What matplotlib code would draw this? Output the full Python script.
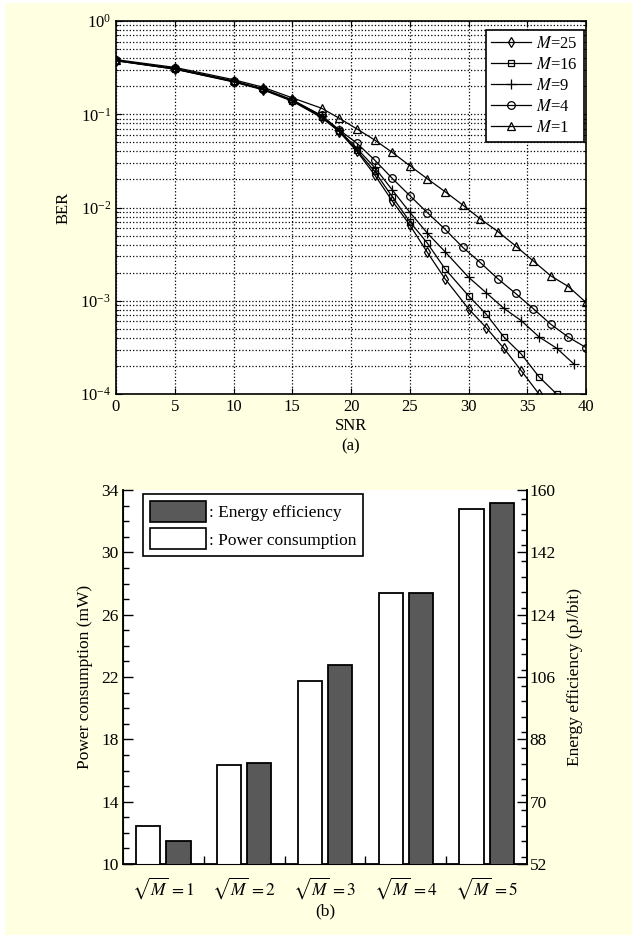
"""BER vs SNR curves and power / energy bars"""

import numpy as np
import matplotlib
matplotlib.use('Agg')
import matplotlib.pyplot as plt
from matplotlib.patches import Rectangle, Patch
from matplotlib.ticker import MultipleLocator, LogLocator, NullFormatter, FixedLocator

plt.rcParams['font.family'] = ['Liberation Serif', 'DejaVu Serif']
plt.rcParams['mathtext.fontset'] = 'stix'
plt.rcParams['font.size'] = 11

# ---- panel (a) data ----
snr_a = [0, 5, 10, 12.5, 15, 17.5, 19, 20.5, 22, 23.5, 25, 26.5, 28]
snr_b = snr_a + [30, 31.5, 33, 34.5, 36, 37.5, 39]
snr_c = snr_a + [29.5, 31, 32.5, 34, 35.5, 37, 38.5, 40]

snr_m25 = snr_b[:18]
ber_m25 = [0.375, 0.305, 0.222, 0.183, 0.138, 0.092, 0.065, 0.040, 0.0225,
           0.0118, 0.0065, 0.0033, 0.00172, 0.00082, 0.000516, 0.00031,
           0.000177, 0.0001]
snr_m16 = snr_b[:19]
ber_m16 = [0.375, 0.305, 0.224, 0.185, 0.140, 0.094, 0.066, 0.041, 0.0245,
           0.0131, 0.00706, 0.00414, 0.0022, 0.00113, 0.00072, 0.00041,
           0.000267, 0.000153, 0.0001]
snr_m9 = snr_b
ber_m9 = [0.378, 0.308, 0.226, 0.186, 0.141, 0.096, 0.067, 0.043, 0.027,
          0.0155, 0.0089, 0.0053, 0.00336, 0.00179, 0.00122, 0.00083,
          0.00061, 0.00041, 0.00031, 0.000208]
snr_m4 = snr_c
ber_m4 = [0.380, 0.310, 0.228, 0.188, 0.143, 0.097, 0.068, 0.0489, 0.0324,
          0.0206, 0.01342, 0.0088, 0.00585, 0.00375, 0.00257, 0.00172,
          0.0012, 0.000825, 0.00056, 0.000407, 0.000315]
snr_m1 = snr_c
ber_m1 = [0.385, 0.318, 0.235, 0.195, 0.150, 0.116, 0.0906, 0.0696, 0.0531,
          0.0391, 0.0281, 0.0203, 0.0148, 0.01066, 0.00755, 0.00552,
          0.00388, 0.00268, 0.00185, 0.00142, 0.00096]

# ---- panel (b) data ----
groups = [r'$\sqrt{M}\,=1$', r'$\sqrt{M}\,=2$', r'$\sqrt{M}\,=3$',
          r'$\sqrt{M}\,=4$', r'$\sqrt{M}\,=5$']
power_mw = [12.45, 16.38, 21.74, 27.37, 32.77]
energy_pj = [58.5, 81.2, 109.35, 130.2, 156.2]
power_ticks = [10, 14, 18, 22, 26, 30, 34]
energy_ticks = [52, 70, 88, 106, 124, 142, 160]

CREAM = '#ffffe1'
DARK = '#595959'

fig = plt.figure(figsize=(6.35, 9.38), dpi=100, facecolor='white')
fig.patches.append(Rectangle((5 / 635, 3 / 938), 627 / 635, 932 / 938,
                             transform=fig.transFigure, facecolor=CREAM,
                             edgecolor='none', zorder=-10))

# ---------------- (a) ----------------
ax = fig.add_axes([116 / 635, 1 - 394 / 938, 470 / 635, 373 / 938])
ax.set_facecolor('white')
series = [
    (snr_m25, ber_m25, 'd', 5.5, r'$M$=25'),
    (snr_m16, ber_m16, 's', 5, r'$M$=16'),
    (snr_m9, ber_m9, '+', 7, r'$M$=9'),
    (snr_m4, ber_m4, 'o', 5.5, r'$M$=4'),
    (snr_m1, ber_m1, '^', 6, r'$M$=1'),
]
for x, y, mk, ms, lab in series:
    ax.plot(x, y, color='black', linewidth=0.9, marker=mk, markersize=ms,
            markerfacecolor='none', markeredgecolor='black',
            markeredgewidth=0.9, label=lab)

ax.set_yscale('log')
ax.set_xlim(0, 40)
ax.set_ylim(1e-4, 1)
ax.xaxis.set_major_locator(MultipleLocator(5))
ax.yaxis.set_major_locator(LogLocator(base=10, numticks=10))
ax.yaxis.set_minor_locator(LogLocator(base=10, subs=np.arange(2, 10), numticks=10))
ax.yaxis.set_minor_formatter(NullFormatter())
ax.grid(True, which='major', color='black', linestyle=':', linewidth=0.9)
ax.grid(True, which='minor', axis='y', color='black', linestyle=':', linewidth=0.9)
ax.tick_params(direction='in', which='both', labelsize=12, top=True, right=True)
ax.tick_params(which='major', length=4)
ax.tick_params(which='minor', length=2)
for s in ax.spines.values():
    s.set_linewidth(1.2)
ax.set_ylabel('BER', fontsize=12, labelpad=6)
ax.set_xlabel('SNR\n(a)', fontsize=12, labelpad=2, linespacing=1.4)

leg = ax.legend(loc='upper right', bbox_to_anchor=(1 - 2 / 470, 1 - 9 / 373),
                borderaxespad=0, fancybox=False, edgecolor='black',
                framealpha=1, fontsize=12, handlelength=2.4,
                labelspacing=0.3, handletextpad=0.3, borderpad=0.35)
leg.get_frame().set_linewidth(1.2)

# ---------------- (b) ----------------
bx = fig.add_axes([123 / 635, 1 - 864 / 938, 404 / 635, 374 / 938])
bx.set_facecolor('white')
idx = np.arange(len(groups))
off = 0.186
w = 0.30
bx.bar(idx - off, power_mw, width=w, color='white', edgecolor='black',
       linewidth=1.3, zorder=3)
bx.set_xlim(-0.5, len(groups) - 0.5)
bx.set_ylim(power_ticks[0], power_ticks[-1])
bx.yaxis.set_major_locator(FixedLocator(power_ticks))
bx.yaxis.set_minor_locator(MultipleLocator(1))
bx.set_xticks(idx)
bx.set_xticklabels(groups, fontsize=12.5)
bx.set_xticks(idx[:-1] + 0.5, minor=True)
bx.tick_params(axis='x', which='major', length=0, pad=8)
bx.tick_params(axis='x', which='minor', direction='in', length=6, width=1)
bx.tick_params(axis='y', which='major', direction='in', length=7, width=1,
               labelsize=12.5, pad=3)
bx.tick_params(axis='y', which='minor', direction='in', length=4, width=1)
bx.spines['top'].set_visible(False)
for s in ['left', 'bottom', 'right']:
    bx.spines[s].set_linewidth(1.3)
bx.set_ylabel('Power consumption (mW)', fontsize=12.5, labelpad=6)
bx.set_xlabel('(b)', fontsize=12.5, labelpad=2)

rx = bx.twinx()
rx.bar(idx + off, energy_pj, width=w, color=DARK, edgecolor='black',
       linewidth=1.3, zorder=3)
rx.set_ylim(energy_ticks[0], energy_ticks[-1])
rx.yaxis.set_major_locator(FixedLocator(energy_ticks))
rx.yaxis.set_minor_locator(MultipleLocator(4.5))
rx.tick_params(axis='y', which='major', direction='in', length=7, width=1,
               labelsize=12.5, pad=2)
rx.tick_params(axis='y', which='minor', direction='in', length=4, width=1)
rx.spines['top'].set_visible(False)
rx.spines['right'].set_linewidth(1.3)
rx.set_ylabel('Energy efficiency (pJ/bit)', fontsize=12.5, labelpad=8)

handles = [Patch(facecolor=DARK, edgecolor='black', linewidth=1.2),
           Patch(facecolor='white', edgecolor='black', linewidth=1.2)]
leg2 = rx.legend(handles, [': Energy efficiency', ': Power consumption'],
                 loc='upper left', bbox_to_anchor=(20 / 404, 1 - 4 / 374),
                 borderaxespad=0, fancybox=False, edgecolor='black',
                 framealpha=1, fontsize=12.5, handlelength=3.2,
                 handleheight=1.5, handletextpad=0.2, labelspacing=0.35,
                 borderpad=0.4)
leg2.get_frame().set_linewidth(1.2)

fig.savefig('out.png', dpi=100, facecolor=fig.get_facecolor())
